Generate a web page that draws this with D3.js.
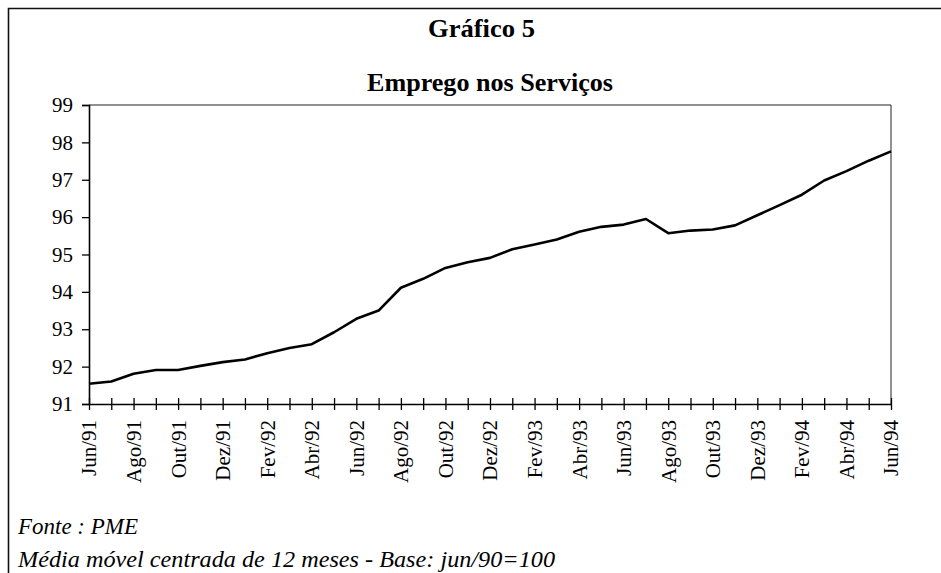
<!DOCTYPE html>
<html><head><meta charset="utf-8">
<script src="https://cdn.jsdelivr.net/npm/d3@7"></script>
<style>body{margin:0;background:#fff}svg{display:block}</style>
</head><body>
<script>
const months = ["Jun/91","Jul/91","Ago/91","Set/91","Out/91","Nov/91","Dez/91","Jan/92","Fev/92","Mar/92","Abr/92","Mai/92","Jun/92","Jul/92","Ago/92","Set/92","Out/92","Nov/92","Dez/92","Jan/93","Fev/93","Mar/93","Abr/93","Mai/93","Jun/93","Jul/93","Ago/93","Set/93","Out/93","Nov/93","Dez/93","Jan/94","Fev/94","Mar/94","Abr/94","Mai/94","Jun/94"];
const values = [91.54,91.60,91.81,91.91,91.91,92.02,92.12,92.19,92.36,92.50,92.60,92.92,93.28,93.50,94.11,94.35,94.64,94.79,94.91,95.14,95.27,95.40,95.61,95.74,95.80,95.95,95.57,95.64,95.67,95.78,96.05,96.32,96.60,96.98,97.23,97.51,97.76];
const yTicks = [91,92,93,94,95,96,97,98,99];
const title = "Gráfico 5";
const subtitle = "Emprego nos Serviços";
const notes = ["Fonte : PME","Média móvel centrada de 12 meses - Base: jun/90=100"];

const W = 941, H = 573;
const svg = d3.select("body").append("svg").attr("width", W).attr("height", H);
const font = "'Liberation Serif','Times New Roman',serif";

// frame
svg.append("path").attr("d", `M8.5,${H} L8.5,8.5 L${W},8.5`).attr("fill","none").attr("stroke","#111").attr("stroke-width",1.6);

const L = 89, R = 891, T = 105, B = 404;
const x = d3.scalePoint().domain(months).range([L, R]);
const y = d3.scaleLinear().domain([91, 99]).range([B, T]);

// titles
svg.append("text").attr("x", 481.5).attr("y", 37).attr("text-anchor","middle")
  .attr("font-family", font).attr("font-weight","bold").attr("font-size", 26)
  .attr("textLength",107).attr("lengthAdjust","spacingAndGlyphs").text(title);
svg.append("text").attr("x", 490).attr("y", 91).attr("text-anchor","middle")
  .attr("font-family", font).attr("font-weight","bold").attr("font-size", 26)
  .attr("textLength",246).attr("lengthAdjust","spacingAndGlyphs").text(subtitle);

// plot border (top & right)
svg.append("path").attr("d", `M${L},${T} L${R},${T} L${R},${B}`).attr("fill","none").attr("stroke","#222").attr("stroke-width",1);

// y axis
const yAxis = svg.append("g").attr("transform", `translate(${L},0)`)
  .call(d3.axisLeft(y).tickValues(yTicks).tickSize(7).tickPadding(9).tickFormat(d3.format("d")));
yAxis.select(".domain").attr("stroke","#000").attr("stroke-width",1.6);
yAxis.selectAll(".tick line").attr("stroke","#000").attr("stroke-width",1.3);
yAxis.selectAll("text").attr("font-family", font).attr("font-size", 21).attr("fill","#000");

// x axis
const xAxis = svg.append("g").attr("transform", `translate(0,${B})`)
  .call(d3.axisBottom(x).tickSizeInner(6).tickSizeOuter(0).tickFormat((d,i)=> i%2===0 ? d : ""));
xAxis.select(".domain").attr("stroke","#000").attr("stroke-width",1.6);
xAxis.selectAll(".tick line").attr("y1",-6).attr("y2",6).attr("stroke","#000").attr("stroke-width",1.3);
xAxis.selectAll("text").attr("font-family", font).attr("font-size", 21).attr("fill","#000")
  .attr("text-anchor","end").attr("dy","0.33em")
  .attr("transform","rotate(-90)").attr("x", -16).attr("y", 0);

// line
svg.append("path").datum(values)
  .attr("fill","none").attr("stroke","#000").attr("stroke-width",2.6).attr("stroke-linejoin","round")
  .attr("d", d3.line().x((d,i)=>x(months[i])).y(d=>y(d)));

// notes
svg.append("text").attr("x",18).attr("y",534).attr("font-family",font).attr("font-style","italic").attr("font-size",23.5)
  .attr("textLength",120).attr("lengthAdjust","spacingAndGlyphs").text(notes[0]);
svg.append("text").attr("x",18).attr("y",567).attr("font-family",font).attr("font-style","italic").attr("font-size",23.5)
  .attr("textLength",537).attr("lengthAdjust","spacingAndGlyphs").text(notes[1]);
</script>
</body></html>
